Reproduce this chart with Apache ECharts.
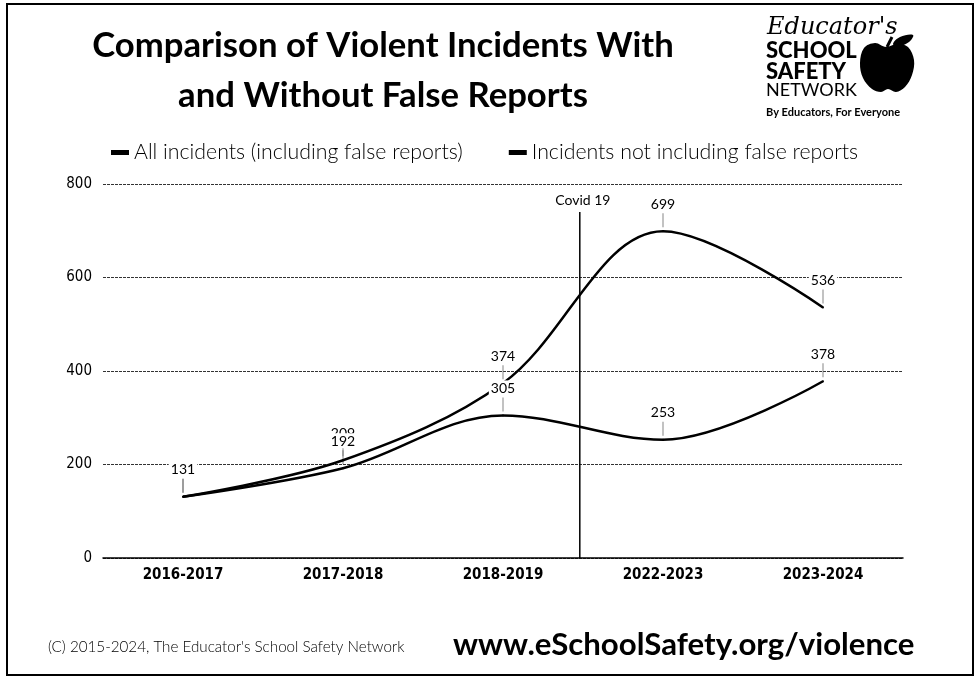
<!DOCTYPE html>
<html>
<head>
<meta charset="utf-8">
<title>Comparison of Violent Incidents With and Without False Reports</title>
<script src="https://cdn.jsdelivr.net/npm/echarts@6/dist/echarts.min.js"></script>
<style>
  html, body { margin: 0; padding: 0; background: #fff; }
  #chart { width: 980px; height: 680px; }
</style>
</head>
<body>
<div id="chart"></div>
<script>
// School years on the horizontal axis
const years = ['2016-2017', '2017-2018', '2018-2019', '2022-2023', '2023-2024'];
// Incident counts per school year
const allIncidents = [131, 209, 374, 699, 536];
const withoutFalseReports = [131, 192, 305, 253, 378];
const seriesNames = ['All incidents (including false reports)', 'Incidents not including false reports'];
// Vertical axis ticks
const yTicks = { min: 0, max: 800, interval: 200 };
// Covid 19 divider: position between school years (category index) and its height
const covidMarker = { label: 'Covid 19', at: 2.48, top: 740 };

const chart = echarts.init(document.getElementById('chart'), null, { renderer: 'canvas' });

const FONT = 'Lato, "Open Sans", sans-serif';
const AXIS_FONT = '"DejaVu Sans Condensed", "DejaVu Sans", sans-serif';

function valueLabel() {
  return {
    show: true,
    position: 'top',
    distance: 19,
    color: '#000',
    fontFamily: FONT,
    fontSize: 14,
    backgroundColor: '#fff',
    padding: [1, 2, 0, 2]
  };
}

// short grey leader tick under each value label
function leaderSeries(values, z) {
  return {
    type: 'scatter',
    data: values,
    symbol: 'rect',
    symbolSize: [1, 14],
    symbolOffset: [0, -11],
    itemStyle: { color: '#666' },
    silent: true,
    z: z
  };
}

function lineSeries(name, values, z) {
  return {
    name: name,
    type: 'line',
    data: values,
    smooth: 0.35,
    symbol: 'circle',
    symbolSize: 2,
    showSymbol: true,
    lineStyle: { color: '#000', width: 2.5 },
    itemStyle: { color: '#000' },
    label: valueLabel(),
    z: z
  };
}

chart.setOption({
  backgroundColor: '#fff',
  animation: false,
  title: {
    text: 'Comparison of Violent Incidents With\nand Without False Reports',
    left: 378,
    top: 16,
    textAlign: 'center',
    textStyle: {
      fontFamily: FONT,
      fontWeight: 'bold',
      fontSize: 34.7,
      lineHeight: 50,
      color: '#000'
    }
  },
  legend: {
    data: seriesNames,
    left: 106,
    top: 137,
    icon: 'rect',
    itemWidth: 18,
    itemHeight: 5,
    itemGap: 46,
    textStyle: { fontFamily: FONT, fontWeight: 300, fontSize: 21.3, color: '#000' }
  },
  grid: { left: 103, right: 77, top: 184, bottom: 122, containLabel: false },
  xAxis: [
    {
      type: 'category',
      data: years,
      boundaryGap: true,
      axisLine: { lineStyle: { color: '#000', width: 1.5 } },
      axisTick: { show: false },
      axisLabel: { margin: 10, color: '#000', fontFamily: AXIS_FONT, fontWeight: 'bold', fontSize: 15 }
    },
    {
      type: 'value',
      min: -0.5,
      max: 4.5,
      show: false
    }
  ],
  yAxis: {
    type: 'value',
    min: yTicks.min,
    max: yTicks.max,
    interval: yTicks.interval,
    axisLine: { show: false },
    axisTick: { show: false },
    axisLabel: { margin: 11, color: '#000', fontFamily: AXIS_FONT, fontSize: 15 },
    splitLine: { lineStyle: { color: '#333', width: 1, type: [3, 1] } }
  },
  series: [
    leaderSeries(allIncidents, 3),
    leaderSeries(withoutFalseReports, 3),
    {
      name: covidMarker.label,
      type: 'line',
      xAxisIndex: 1,
      data: [[covidMarker.at, 0], [covidMarker.at, covidMarker.top]],
      symbol: 'none',
      lineStyle: { color: '#000', width: 1.5 },
      silent: true,
      z: 4,
      markPoint: {
        symbol: 'rect',
        symbolSize: 0,
        data: [{ coord: [covidMarker.at, covidMarker.top] }],
        label: {
          show: true,
          formatter: covidMarker.label,
          position: 'top',
          distance: 5,
          offset: [3, 0],
          color: '#000',
          fontFamily: FONT,
          fontSize: 14
        }
      }
    },
    lineSeries(seriesNames[0], allIncidents, 5),
    lineSeries(seriesNames[1], withoutFalseReports, 6)
  ],
  graphic: [
    // page frame
    {
      type: 'rect',
      shape: { x: 7, y: 4, width: 966, height: 671 },
      style: { fill: null, stroke: '#000', lineWidth: 2 },
      silent: true
    },
    // network logo
    {
      type: 'group',
      x: 766,
      y: 0,
      children: [
        {
          type: 'text',
          x: 1, y: 28,
          style: { text: "Educator's", font: 'italic 24px "DejaVu Serif", serif', fill: '#000', verticalAlign: 'middle' }
        },
        {
          type: 'text',
          x: 0, y: 51,
          style: { text: 'SCHOOL', font: '900 22px Lato, sans-serif', fill: '#000', verticalAlign: 'middle' }
        },
        {
          type: 'text',
          x: 0, y: 72,
          style: { text: 'SAFETY', font: '900 22px Lato, sans-serif', fill: '#000', verticalAlign: 'middle' }
        },
        {
          type: 'text',
          x: 0, y: 90,
          style: { text: 'NETWORK', font: '400 18px Lato, sans-serif', fill: '#000', verticalAlign: 'middle' }
        },
        {
          type: 'text',
          x: 0, y: 112,
          style: { text: 'By Educators, For Everyone', font: 'bold 11px Lato, sans-serif', fill: '#000', verticalAlign: 'middle' }
        },
        // apple body
        {
          type: 'polygon',
          x: 93, y: 36,
          shape: {
            points: [[27, 11], [16, 7], [5, 12], [1, 27], [4, 42], [13, 53], [22, 56], [29, 53], [37, 56], [46, 51], [53, 39], [55, 24], [49, 11], [38, 8]],
            smooth: 0.35
          },
          style: { fill: '#000' }
        },
        // stem
        {
          type: 'line',
          x: 93, y: 36,
          shape: { x1: 28, y1: 11, x2: 33, y2: 1 },
          style: { stroke: '#000', lineWidth: 3 }
        },
        // leaf
        {
          type: 'polygon',
          x: 93, y: 36,
          shape: { points: [[34, 8], [41, 1], [54, -1], [50, 6], [40, 10]], smooth: 0.4 },
          style: { fill: '#000' }
        }
      ]
    },
    // footer
    {
      type: 'text',
      x: 48,
      y: 647,
      style: { text: "(C) 2015-2024, The Educator's School Safety Network", font: '300 15.2px Lato, sans-serif', fill: '#000', verticalAlign: 'middle' }
    },
    {
      type: 'text',
      x: 453,
      y: 645,
      style: { text: 'www.eSchoolSafety.org/violence', font: 'bold 31.2px Lato, sans-serif', fill: '#000', verticalAlign: 'middle' }
    }
  ]
});
</script>
</body>
</html>
